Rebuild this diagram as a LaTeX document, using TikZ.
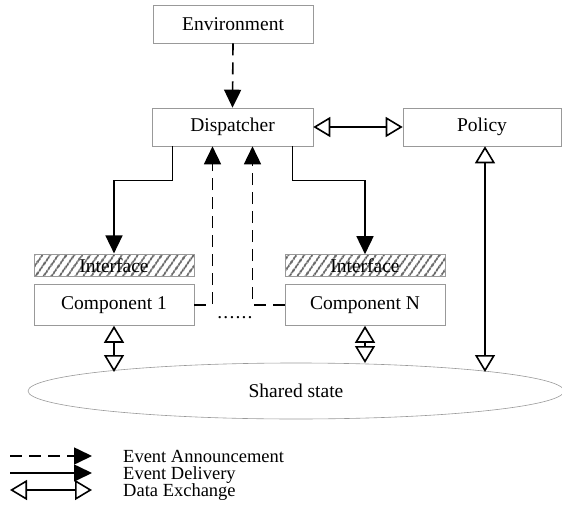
\documentclass[tikz,border=0pt]{standalone}
\usepackage{fontspec}
\setmainfont{Liberation Serif}
\usetikzlibrary{arrows.meta,patterns.meta,shapes.geometric}
\tikzset{
	box/.style={draw=gray!80, line width=0.6pt, minimum width=160pt, minimum height=38pt, inner sep=0pt},
	hatchbox/.style={box, minimum height=22pt, pattern={Lines[angle=55,distance=6.5pt,line width=2.2pt]}, pattern color=black!65},
	announce/.style={line width=1.6pt, dash pattern=on 12pt off 7pt, -{Triangle[length=18pt,width=17pt]}},
	deliver/.style={line width=1.6pt, -{Triangle[length=18pt,width=17pt]}},
	exchange/.style={line width=1.6pt, {Triangle[open,length=17pt,width=20pt]}-{Triangle[open,length=17pt,width=20pt]}},
}
\begin{document}
\begin{tikzpicture}[x=1pt, y=-1pt, font=\fontsize{19.5}{20}\selectfont]
		%%%%% START %%%%%
		\useasboundingbox (0, 0) rectangle (562, 508);
		
		\node[box] (env) at (233, 24) {Environment};
		\node[box, minimum width=161pt] (disp) at (232.5, 127) {Dispatcher};
		\node[box, minimum width=158pt] (pol) at (482, 127) {Policy};
		
		\node[hatchbox] (if1) at (114, 265.5) {Interface};
		\node[box, minimum height=41pt] (c1) at (114, 305) {Component 1};
		\node[hatchbox] (ifN) at (365, 265.5) {Interface};
		\node[box, minimum height=41pt] (cN) at (365, 305) {Component N};
		\node (dots) at (235, 318) {.\kern1.2pt.\kern1.2pt.\kern1.2pt.\kern1.2pt.\kern1.2pt.};
		
		\node[draw=gray!80, line width=0.6pt, ellipse, minimum width=536pt, minimum height=56pt, inner sep=0pt] (ss) at (296, 391) {Shared state};
		\coordinate (s1) at (114, 372);
		\coordinate (sN) at (365, 363);
		\coordinate (sP) at (485, 372);
		
		\draw[announce] (env.south) -- (disp.north);
		\draw[exchange] (disp.east) -- (pol.west);
		
		\draw[deliver] ([xshift=-60pt]disp.south) -- ++(0, 34) -| (if1.north);
		\draw[deliver] ([xshift=60pt]disp.south) -- ++(0, 34) -| (ifN.north);
		\draw[announce] (c1.east) -| ([xshift=-20pt]disp.south);
		\draw[announce] (cN.west) -| ([xshift=20pt]disp.south);
		
		\draw[exchange] (c1.south) -- (s1);
		\draw[exchange] (cN.south) -- (sN);
		\draw[exchange] ([xshift=3pt]pol.south) -- (sP);
		
		% legend
		\coordinate (la1) at (10, 456); \coordinate (lb1) at (92, 456);
		\coordinate (la2) at (10, 473); \coordinate (lb2) at (92, 473);
		\coordinate (la3) at (10, 490); \coordinate (lb3) at (92, 490);
		\draw[announce] (la1) -- (lb1);
		\draw[deliver] (la2) -- (lb2);
		\draw[exchange] (la3) -- (lb3);
		\node[anchor=west, inner sep=0pt, align=left, font=\fontsize{18.5}{17}\selectfont] (legend) at (123, 475) {Event Announcement\\Event Delivery\\Data Exchange};
		
		%%%%% END %%%%%
	\end{tikzpicture}
\end{document}
